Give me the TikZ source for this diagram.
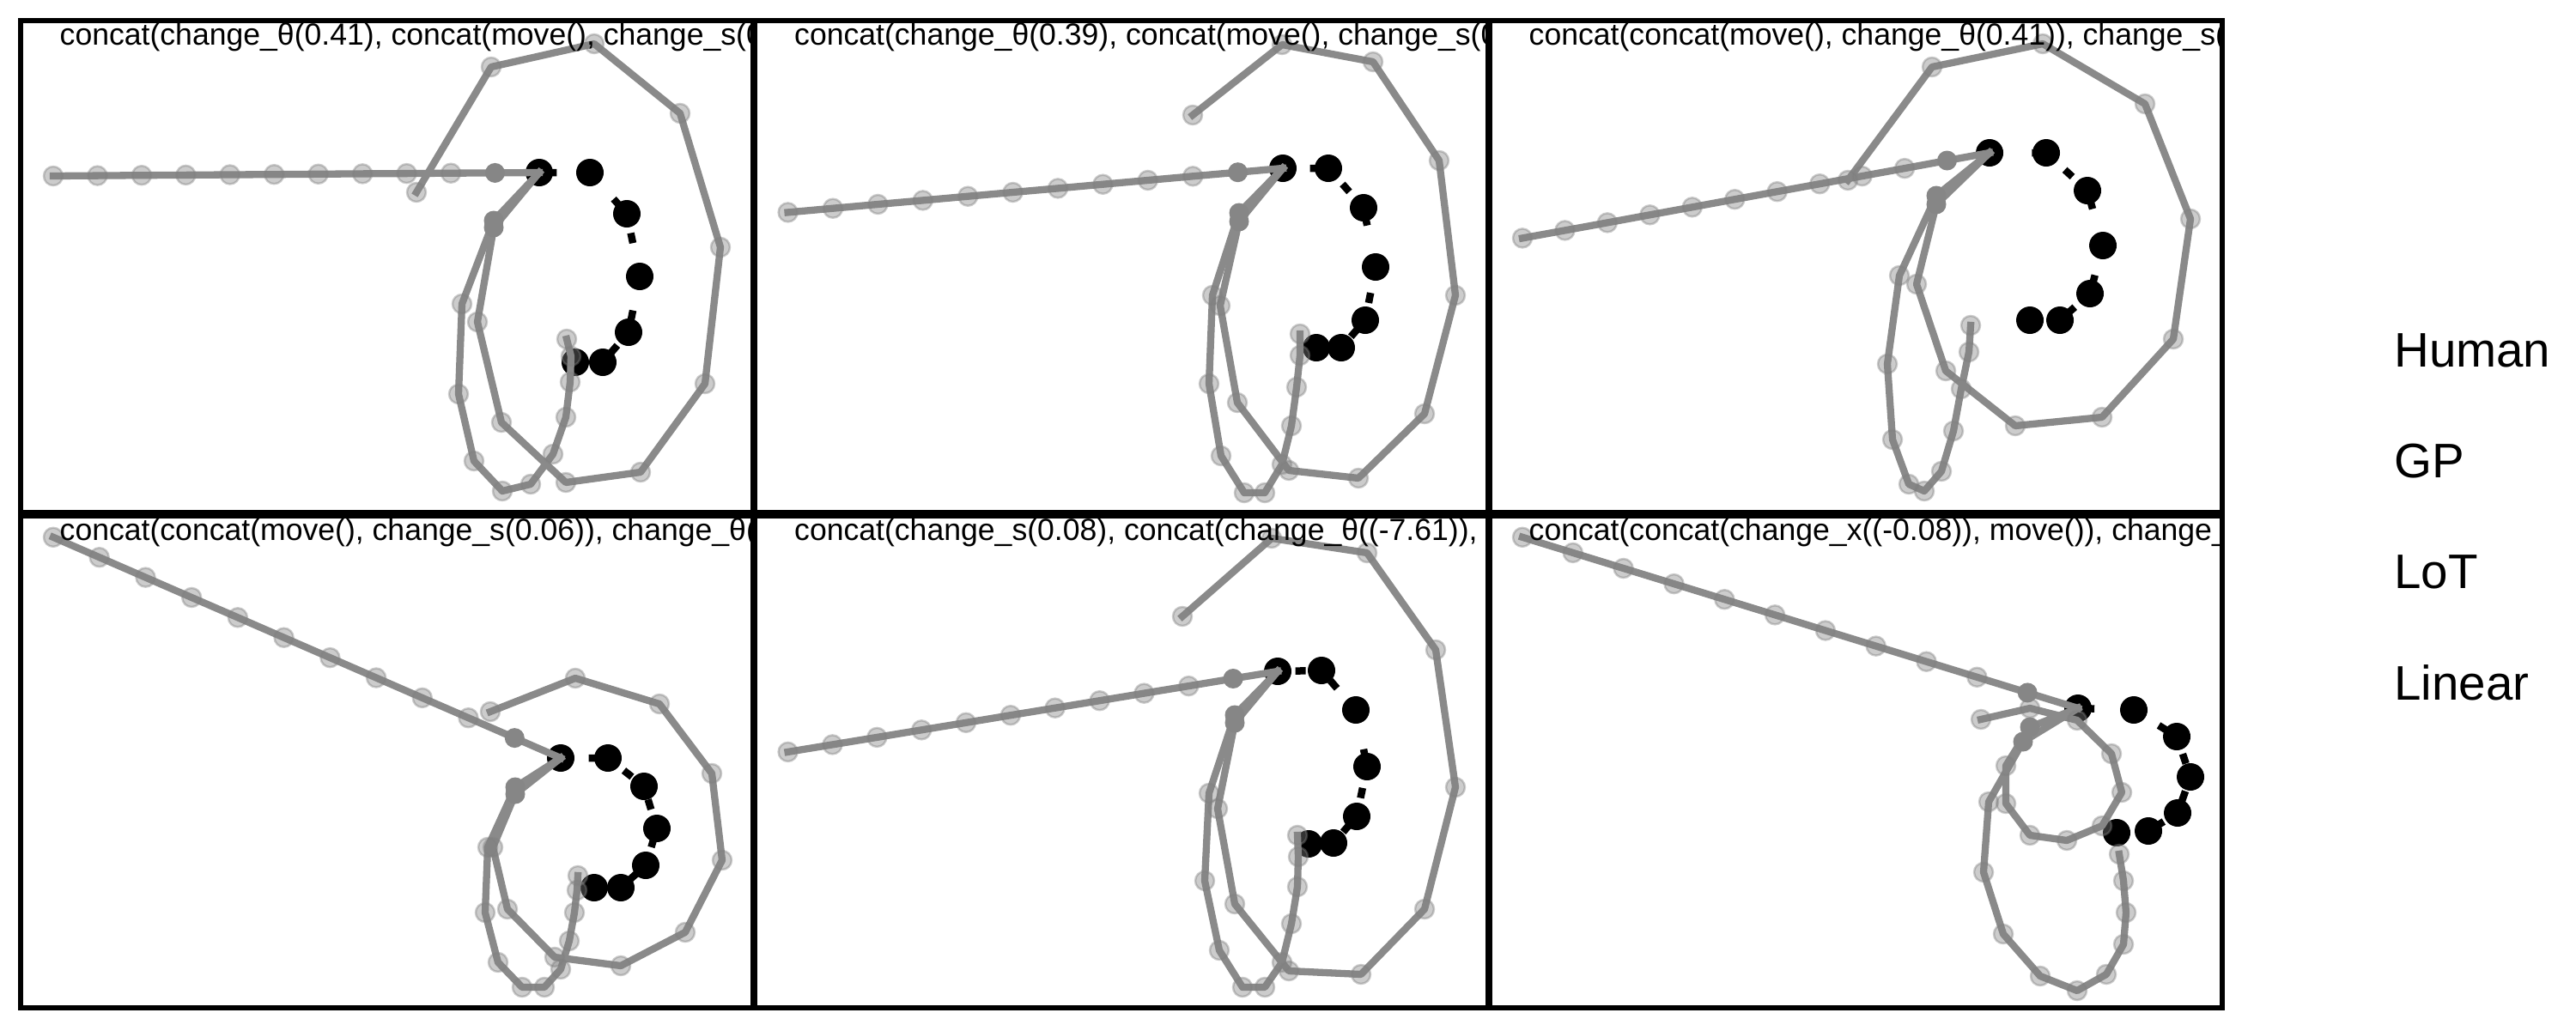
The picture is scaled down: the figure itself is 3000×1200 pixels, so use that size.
\documentclass[tikz,border=0pt]{standalone}
\usepackage{fontspec}
\setmainfont{Liberation Sans}
\definecolor{lgray}{RGB}{138,138,138}
\definecolor{mgray}{RGB}{128,128,128}
\definecolor{dgray}{RGB}{134,134,134}
\tikzset{
  frame/.style={draw=black, line width=5.5pt},
  human/.style={draw=black, line width=8.5pt, dash pattern=on 12pt off 34pt, line cap=butt, line join=round},
  hdot/.style={fill=black},
  model/.style={draw=lgray, line width=8.3pt, line join=round, line cap=rect},
  mdot/.style={fill=mgray, fill opacity=0.4, draw=mgray, draw opacity=0.4, line width=2.5pt},
  fdot/.style={fill=dgray},
  ttl/.style={anchor=base west, inner sep=0pt, font=\fontsize{35.6}{40}\selectfont},
  leg/.style={anchor=base west, inner sep=0pt, font=\fontsize{56.5}{60}\selectfont},
}
\begin{document}
\begin{tikzpicture}[x=1pt, y=-1pt]
\path[use as bounding box, fill=white] (0,0) rectangle (3000,1200);

% ---------------- Panel 1 ----------------
\begin{scope}
\clip (24,24) rectangle (877,597);
\draw[human] (670,422) -- (702,422) -- (732,387) -- (745,322) -- (730,249) -- (687,201) -- (628,201);
\foreach \x/\y in {670/422,702/422,732/387,745/322,730/249,687/201,628/201}
  \fill[hdot] (\x,\y) circle[radius=16pt];
\coordinate (J1) at (628,201);
\draw[model] (J1) -- (576.5,201.4) -- (525.1,201.7) -- (473.6,202.1) -- (422.2,202.4) -- (370.7,202.8) -- (319.3,203.2) -- (267.8,203.5) -- (216.4,203.9) -- (165,204.2) -- (113.5,204.6) -- (62,205);
\draw[model] (J1) -- (575,257) -- (538,354) -- (534,459) -- (552,537) -- (585,572) -- (618,564) -- (644,529) -- (659,486) -- (664,445) -- (665,415) -- (660,395);
\draw[model] (J1) -- (575,265) -- (556,375) -- (584,492) -- (659,562) -- (746,550) -- (821,447) -- (839,288) -- (792,132) -- (692,51) -- (572,78) -- (485,224);
\foreach \x/\y in {525.1/201.7,473.6/202.1,422.2/202.4,370.7/202.8,319.3/203.2,267.8/203.5,216.4/203.9,165/204.2,113.5/204.6,62/205,
  538/354,534/459,552/537,585/572,618/564,644/529,659/486,664/445,665/415,660/395,
  556/375,584/492,659/562,746/550,821/447,839/288,792/132,692/51,572/78,485/224}
  \path[mdot] (\x,\y) circle[radius=11pt];
\foreach \x/\y in {576.5/201.4,575/257,575/265}
  \fill[fdot] (\x,\y) circle[radius=11.5pt];
\node[ttl] (t1) at (69.5,52) {concat(change\_θ(0.41), concat(move(), change\_s(0};
\end{scope}
\draw[frame] (24,24) rectangle (877,597);

% ---------------- Panel 2 ----------------
\begin{scope}
\clip (879.5,24) rectangle (1732.5,597);
\draw[human] (1533,405) -- (1562,405) -- (1590,373) -- (1602,311) -- (1588,242) -- (1547,196) -- (1494,196);
\foreach \x/\y in {1533/405,1562/405,1590/373,1602/311,1588/242,1547/196,1494/196}
  \fill[hdot] (\x,\y) circle[radius=16pt];
\coordinate (J2) at (1494,196);
\draw[model] (J2) -- (1441.6,200.7) -- (1389.2,205.3) -- (1336.8,210) -- (1284.4,214.7) -- (1232,219.4) -- (1179.6,224) -- (1127.2,228.7) -- (1074.8,233.4) -- (1022.4,238) -- (970,242.7) -- (917.6,247.4);
\draw[model] (J2) -- (1443,248) -- (1412,344) -- (1408,447) -- (1422,531) -- (1449,574) -- (1473,574) -- (1493,541) -- (1504,496) -- (1510,451) -- (1514,414) -- (1514,389);
\draw[model] (J2) -- (1443,258) -- (1421,356) -- (1441,469) -- (1501,548) -- (1582,557) -- (1659,482) -- (1695,344) -- (1676,187) -- (1599,72) -- (1493,52) -- (1389,134);
\foreach \x/\y in {1389.2/205.3,1336.8/210,1284.4/214.7,1232/219.4,1179.6/224,1127.2/228.7,1074.8/233.4,1022.4/238,970/242.7,917.6/247.4,
  1412/344,1408/447,1422/531,1449/574,1473/574,1493/541,1504/496,1510/451,1514/414,1514/389,
  1421/356,1441/469,1501/548,1582/557,1659/482,1695/344,1676/187,1599/72,1493/52,1389/134}
  \path[mdot] (\x,\y) circle[radius=11pt];
\foreach \x/\y in {1441.6/200.7,1443/248,1443/258}
  \fill[fdot] (\x,\y) circle[radius=11.5pt];
\node[ttl] (t2) at (925,52) {concat(change\_θ(0.39), concat(move(), change\_s(0};
\end{scope}
\draw[frame] (879.5,24) rectangle (1732.5,597);

% ---------------- Panel 3 ----------------
\begin{scope}
\clip (1735,24) rectangle (2588,597);
\draw[human] (2364,373) -- (2399,373) -- (2434,342) -- (2449,286) -- (2431,222) -- (2383,178) -- (2317,178);
\foreach \x/\y in {2364/373,2399/373,2434/342,2449/286,2431/222,2383/178,2317/178}
  \fill[hdot] (\x,\y) circle[radius=16pt];
\coordinate (J3) at (2317,178);
\draw[model] (J3) -- (2267.5,187) -- (2218.1,196.1) -- (2168.6,205.1) -- (2119.2,214.2) -- (2069.7,223.2) -- (2020.3,232.2) -- (1970.8,241.3) -- (1921.4,250.3) -- (1871.9,259.4) -- (1822.5,268.4) -- (1773,277.4);
\draw[model] (J3) -- (2255,228) -- (2212,321) -- (2198,424) -- (2204,512) -- (2223,564) -- (2241,572) -- (2261,549) -- (2275,502) -- (2284,453) -- (2293,410) -- (2295,379);
\draw[model] (J3) -- (2255,238) -- (2232,331) -- (2266,432) -- (2347,496) -- (2448,486) -- (2531,395) -- (2551,255) -- (2498,121) -- (2379,51) -- (2250,78) -- (2152,210);
\foreach \x/\y in {2218.1/196.1,2168.6/205.1,2119.2/214.2,2069.7/223.2,2020.3/232.2,1970.8/241.3,1921.4/250.3,1871.9/259.4,1822.5/268.4,1773/277.4,
  2212/321,2198/424,2204/512,2223/564,2241/572,2261/549,2275/502,2284/453,2293/410,2295/379,
  2232/331,2266/432,2347/496,2448/486,2531/395,2551/255,2498/121,2379/51,2250/78,2152/210}
  \path[mdot] (\x,\y) circle[radius=11pt];
\foreach \x/\y in {2267.5/187,2255/228,2255/238}
  \fill[fdot] (\x,\y) circle[radius=11.5pt];
\node[ttl] (t3) at (1780.5,52) {concat(concat(move(), change\_θ(0.41)), change\_s(};
\end{scope}
\draw[frame] (1735,24) rectangle (2588,597);

% ---------------- Panel 4 ----------------
\begin{scope}
\clip (24,601) rectangle (877,1174);
\draw[human] (692,1034) -- (723,1034) -- (752,1008) -- (765,965) -- (750,916) -- (708,883) -- (653,883);
\foreach \x/\y in {692/1034,723/1034,752/1008,765/965,750/916,708/883,653/883}
  \fill[hdot] (\x,\y) circle[radius=16pt];
\coordinate (J4) at (653,883);
\draw[model] (J4) -- (599.3,859.6) -- (545.5,836.2) -- (491.8,812.9) -- (438.1,789.5) -- (384.4,766.1) -- (330.6,742.7) -- (276.9,719.3) -- (223.2,696) -- (169.5,672.6) -- (115.7,649.2) -- (62,625.8);
\draw[model] (J4) -- (600,917) -- (568,987) -- (565,1063) -- (580,1121) -- (608,1150) -- (634,1150) -- (653,1129) -- (663,1096) -- (669,1063) -- (672,1037) -- (673,1020);
\draw[model] (J4) -- (600,925) -- (574,987) -- (591,1059) -- (646,1115) -- (723,1125) -- (798,1086) -- (841,1002) -- (829,901) -- (768,820) -- (670,790) -- (571,829);
\foreach \x/\y in {545.5/836.2,491.8/812.9,438.1/789.5,384.4/766.1,330.6/742.7,276.9/719.3,223.2/696,169.5/672.6,115.7/649.2,62/625.8,
  568/987,565/1063,580/1121,608/1150,634/1150,653/1129,663/1096,669/1063,672/1037,673/1020,
  574/987,591/1059,646/1115,723/1125,798/1086,841/1002,829/901,768/820,670/790,571/829}
  \path[mdot] (\x,\y) circle[radius=11pt];
\foreach \x/\y in {599.3/859.6,600/917,600/925}
  \fill[fdot] (\x,\y) circle[radius=11.5pt];
\node[ttl] (t4) at (69.5,629) {concat(concat(move(), change\_s(0.06)), change\_θ(};
\end{scope}
\draw[frame] (24,601) rectangle (877,1174);

% ---------------- Panel 5 ----------------
\begin{scope}
\clip (879.5,601) rectangle (1732.5,1174);
\draw[human] (1524,983) -- (1553,982) -- (1580,951) -- (1592,893) -- (1579,827) -- (1539,781) -- (1488,782);
\foreach \x/\y in {1524/983,1553/982,1580/951,1592/893,1579/827,1539/781,1488/782}
  \fill[hdot] (\x,\y) circle[radius=16pt];
\coordinate (J5) at (1488,782);
\draw[model] (J5) -- (1436.1,790.5) -- (1384.3,799.1) -- (1332.4,807.6) -- (1280.6,816.2) -- (1228.7,824.7) -- (1176.9,833.2) -- (1125,841.8) -- (1073.2,850.3) -- (1021.3,858.9) -- (969.5,867.4) -- (917.6,875.9);
\draw[model] (J5) -- (1438,833) -- (1408,924) -- (1403,1026) -- (1420,1107) -- (1447,1150) -- (1473,1150) -- (1493,1121) -- (1504,1076) -- (1511,1033) -- (1512,998) -- (1511,973);
\draw[model] (J5) -- (1438,842) -- (1418,942) -- (1438,1053) -- (1501,1131) -- (1585,1135) -- (1659,1059) -- (1695,917) -- (1672,757) -- (1592,644) -- (1481,627) -- (1377,718);
\foreach \x/\y in {1384.3/799.1,1332.4/807.6,1280.6/816.2,1228.7/824.7,1176.9/833.2,1125/841.8,1073.2/850.3,1021.3/858.9,969.5/867.4,917.6/875.9,
  1408/924,1403/1026,1420/1107,1447/1150,1473/1150,1493/1121,1504/1076,1511/1033,1512/998,1511/973,
  1418/942,1438/1053,1501/1131,1585/1135,1659/1059,1695/917,1672/757,1592/644,1481/627,1377/718}
  \path[mdot] (\x,\y) circle[radius=11pt];
\foreach \x/\y in {1436.1/790.5,1438/833,1438/842}
  \fill[fdot] (\x,\y) circle[radius=11.5pt];
\node[ttl] (t5) at (925,629) {concat(change\_s(0.08), concat(change\_θ((-7.61)), c};
\end{scope}
\draw[frame] (879.5,601) rectangle (1732.5,1174);

% ---------------- Panel 6 ----------------
\begin{scope}
\clip (1735,601) rectangle (2588,1174);
\draw[human] (2465,970) -- (2502,968) -- (2536,947) -- (2551,905) -- (2535,858) -- (2485,827) -- (2420,825);
\foreach \x/\y in {2465/970,2502/968,2536/947,2551/905,2535/858,2485/827,2420/825}
  \fill[hdot] (\x,\y) circle[radius=16pt];
\coordinate (J6) at (2420,825);
\draw[model] (J6) -- (2361.2,806.9) -- (2302.4,788.8) -- (2243.5,770.7) -- (2184.7,752.6) -- (2125.9,734.5) -- (2067.1,716.3) -- (2008.3,698.2) -- (1949.5,680.1) -- (1890.6,662) -- (1831.8,643.9) -- (1773,625.8);
\draw[model] (J6) -- (2364,847) -- (2336,892) -- (2336,936) -- (2364,973) -- (2407,979) -- (2448,962) -- (2471,923) -- (2459,878) -- (2419,839) -- (2364,825) -- (2307,838);
\draw[model] (J6) -- (2356,864) -- (2316,934) -- (2310,1016) -- (2333,1088) -- (2376,1137) -- (2419,1154) -- (2453,1135) -- (2473,1100) -- (2476,1063) -- (2473,1026) -- (2468,995);
\foreach \x/\y in {2302.4/788.8,2243.5/770.7,2184.7/752.6,2125.9/734.5,2067.1/716.3,2008.3/698.2,1949.5/680.1,1890.6/662,1831.8/643.9,1773/625.8,
  2336/892,2336/936,2364/973,2407/979,2448/962,2471/923,2459/878,2419/839,2364/825,2307/838,
  2316/934,2310/1016,2333/1088,2376/1137,2419/1154,2453/1135,2473/1100,2476/1063,2473/1026,2468/995}
  \path[mdot] (\x,\y) circle[radius=11pt];
\foreach \x/\y in {2361.2/806.9,2364/847,2356/864}
  \fill[fdot] (\x,\y) circle[radius=11.5pt];
\node[ttl] (t6) at (1780.5,629) {concat(concat(change\_x((-0.08)), move()), change\_};
\end{scope}
\draw[frame] (1735,601) rectangle (2588,1174);

% ---------------- Legend ----------------
\node[leg] (lh) at (2788,427) {Human};
\node[leg] (lg) at (2788,556) {GP};
\node[leg] (ll) at (2788,685) {LoT};
\node[leg] (ln) at (2788,815) {Linear};
\end{tikzpicture}
\end{document}
